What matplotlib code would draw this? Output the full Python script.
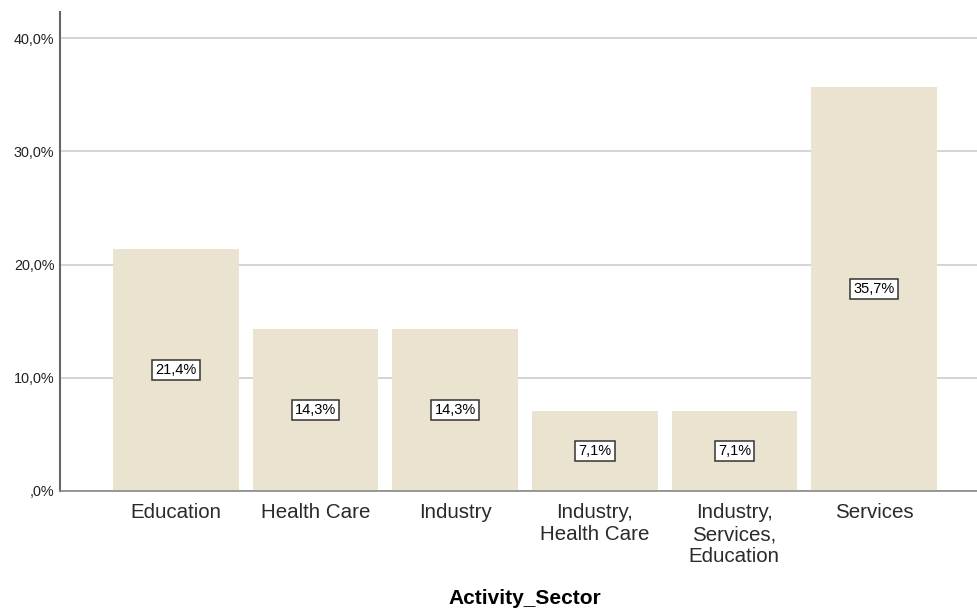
import matplotlib
matplotlib.use("Agg")
import matplotlib.pyplot as plt

plt.rcParams['font.family'] = ['Liberation Sans', 'DejaVu Sans']

# ***** Data *****
sectors = ['Education', 'Health Care', 'Industry', 'Industry,\nHealth Care',
           'Industry,\nServices,\nEducation', 'Services']
percents = [21.4, 14.3, 14.3, 7.1, 7.1, 35.7]
yticks = [0, 10, 20, 30, 40]
ytick_labels = [',0%', '10,0%', '20,0%', '30,0%', '40,0%']

# ***** Figure *****
fig = plt.figure(figsize=(9.78, 6.10), dpi=100)
ax = fig.add_axes([60 / 978, 119 / 610, 918 / 978, 479 / 610])

xs = list(range(len(sectors)))
ax.bar(xs, percents, width=0.9, color='#E9E3D0', edgecolor='none', zorder=2)

# value labels in boxes at half bar height
for x, p in zip(xs, percents):
    ax.text(x, p / 2, f'{p:.1f}%'.replace('.', ','), ha='center', va='center',
            fontsize=10.5, color='black', zorder=3,
            bbox=dict(boxstyle='square,pad=0.22', facecolor='white',
                      edgecolor='#333333', linewidth=1.1))

ax.set_xlim(-0.83, 5.745)
ax.set_ylim(0, 42.3)
ax.set_yticks(yticks)
ax.set_yticklabels(ytick_labels, fontsize=10.4, color='#222222')
ax.set_xticks(xs)
ax.set_xticklabels(sectors, fontsize=14.8, linespacing=1.19, color='#2a2a2a')
ax.tick_params(axis='both', length=0)
ax.tick_params(axis='x', pad=9)
ax.tick_params(axis='y', pad=4)

ax.yaxis.grid(True, color='#D4D4D4', linewidth=1.4, zorder=0)
ax.set_axisbelow(True)

for s in ['top', 'right']:
    ax.spines[s].set_visible(False)
ax.spines['left'].set_color('#666666')
ax.spines['left'].set_linewidth(1.5)
ax.spines['bottom'].set_color('#888888')
ax.spines['bottom'].set_linewidth(1.2)

ax.set_xlabel('Activity_Sector', fontsize=15, fontweight='bold')
ax.xaxis.set_label_coords((525 - 60) / 918, -(604 - 491) / 479)
ax.xaxis.label.set_va('baseline')

fig.savefig('out.png', dpi=100, facecolor='white')
